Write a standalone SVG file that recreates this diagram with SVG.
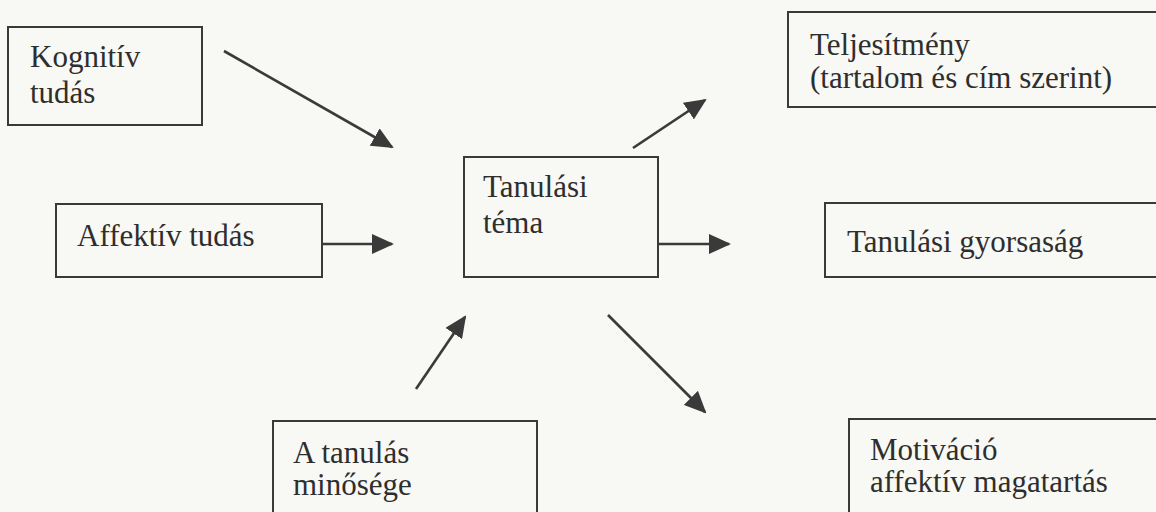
<svg xmlns="http://www.w3.org/2000/svg" width="1156" height="512" viewBox="0 0 1156 512">
<style>
.box{fill:none;stroke:#3a3a3a;stroke-width:2}
.t{font-size:31px;fill:#2e2e2e}
.c{stroke:#3a3a3a;stroke-width:2.6;fill:none;marker-end:url(#ah)}
</style>
<defs>
<marker id="ah" viewBox="0 0 22 20" refX="20" refY="10" markerWidth="22" markerHeight="20" markerUnits="userSpaceOnUse" orient="auto">
<path d="M0,0 L22,10 L0,20 Z" fill="#3a3a3a"/>
</marker>
</defs>
<rect width="1156" height="512" fill="#f8f8f4"/>
<g font-family="'Liberation Serif', 'Times New Roman', 'DejaVu Serif', serif">
<g id="kognitiv">
<rect class="box" x="8" y="27" width="194" height="98"/>
<text class="t" x="30" y="67">Kognitív</text>
<text class="t" x="30" y="103">tudás</text>
</g>
<g id="affektiv">
<rect class="box" x="56" y="204" width="266" height="73"/>
<text class="t" x="77" y="246">Affektív tudás</text>
</g>
<g id="tema">
<rect class="box" x="464" y="157" width="194" height="120"/>
<text class="t" x="483" y="197">Tanulási</text>
<text class="t" x="483" y="233">téma</text>
</g>
<g id="minoseg">
<rect class="box" x="273" y="421" width="264" height="110"/>
<text class="t" x="293" y="463">A tanulás</text>
<text class="t" x="293" y="495">minősége</text>
</g>
<g id="teljesitmeny">
<rect class="box" x="788" y="12" width="400" height="95"/>
<text class="t" x="810" y="55">Teljesítmény</text>
<text class="t" x="810" y="88">(tartalom és cím szerint)</text>
</g>
<g id="gyorsasag">
<rect class="box" x="825" y="203" width="360" height="74"/>
<text class="t" x="847" y="252">Tanulási gyorsaság</text>
</g>
<g id="motivacio">
<rect class="box" x="849" y="419" width="340" height="120"/>
<text class="t" x="870" y="460">Motiváció</text>
<text class="t" x="870" y="492">affektív magatartás</text>
</g>
</g>
<g id="connectors">
<line class="c" x1="224" y1="51" x2="392" y2="147"/>
<line class="c" x1="322" y1="244" x2="392" y2="244"/>
<line class="c" x1="416" y1="389" x2="465" y2="317"/>
<line class="c" x1="633" y1="148" x2="705" y2="100"/>
<line class="c" x1="658" y1="244" x2="729" y2="244"/>
<line class="c" x1="608" y1="315" x2="705" y2="412"/>
</g>
</svg>
